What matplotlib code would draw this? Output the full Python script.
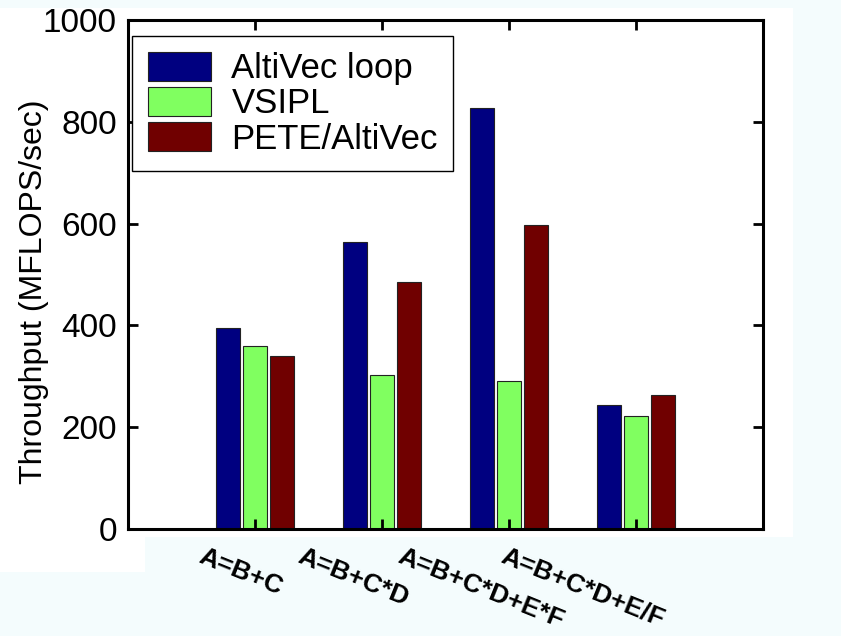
import numpy as np
import matplotlib
matplotlib.use("Agg")
import matplotlib.pyplot as plt
from matplotlib.patches import Rectangle
import matplotlib.transforms as mtransforms

# data
categories = ["A=B+C", "A=B+C*D", "A=B+C*D+E*F", "A=B+C*D+E/F"]
series_names = ["AltiVec loop", "VSIPL", "PETE/AltiVec"]
altivec_loop = [394, 564, 827, 243]
vsipl = [359, 303, 290, 222]
pete_altivec = [340, 485, 598, 263]
colors = ["#000080", "#80ff60", "#700000"]
label_x = [0.60, 1.38, 2.17, 2.98]  # where the slanted labels start

plt.rcParams['font.family'] = ['Liberation Sans', 'DejaVu Sans']

fig = plt.figure(figsize=(8.41, 6.36), dpi=100)
fig.patch.set_facecolor("#f4fcfd")
# white page behind the axes
fig.patches.append(Rectangle((0, 1 - 537/636), 793/841, (537 - 8)/636,
                             transform=fig.transFigure, facecolor="white",
                             edgecolor="none", zorder=-10))
fig.patches.append(Rectangle((0, 1 - 572/636), 145/841, 40/636,
                             transform=fig.transFigure, facecolor="white",
                             edgecolor="none", zorder=-10))

ax = fig.add_axes([128/841, 1 - 529/636, 635/841, 509/636])
ax.set_zorder(5)

x = np.arange(1, len(categories) + 1)
offs = [-0.215, 0, 0.215]
allvals = [altivec_loop, vsipl, pete_altivec]
for i in range(3):
    ax.bar(x + offs[i], allvals[i], width=0.19, color=colors[i],
           edgecolor="#222222", linewidth=0.8, label=series_names[i])

ax.set_xlim(0, 5)
ax.set_ylim(0, 1000)
ax.set_yticks(range(0, 1001, 200))
ax.set_xticks(x)
ax.set_xticklabels([])
ax.tick_params(direction="in", length=7, width=2, top=True, right=True,
               labelsize=24, pad=8)
for s in ax.spines.values():
    s.set_linewidth(2.2)

ax.set_ylabel("Throughput (MFLOPS/sec)", fontsize=23)
ax.yaxis.set_label_coords(-0.125, 0.466)

trans = mtransforms.blended_transform_factory(ax.transData, ax.transAxes)
for lx, lab in zip(label_x, categories):
    ax.text(lx, -0.03, lab, transform=trans, rotation=-22,
            rotation_mode="anchor", ha="left", va="top",
            fontsize=19, fontweight="bold")

leg = ax.legend(loc="upper left", bbox_to_anchor=(0.007, 0.968),
                fontsize=25, handlelength=1.8, handleheight=0.9,
                labelspacing=0.05, borderpad=0.45, handletextpad=0.6,
                borderaxespad=0.0, fancybox=False, framealpha=1)
leg.get_frame().set_edgecolor("black")
leg.get_frame().set_linewidth(1.0)

fig.savefig("out.png", dpi=100, facecolor=fig.get_facecolor())
